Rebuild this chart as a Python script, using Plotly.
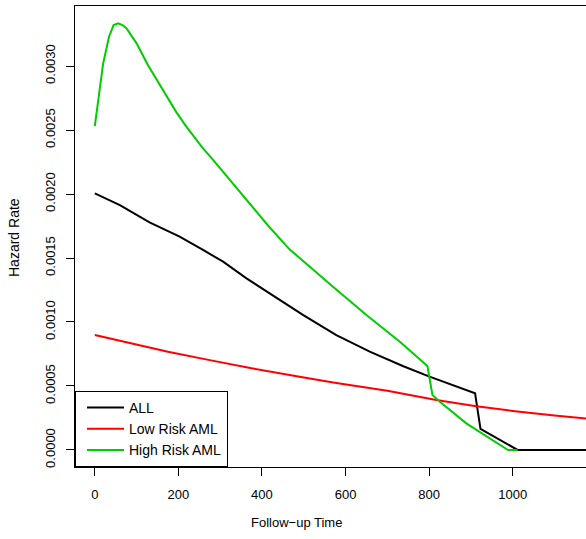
import plotly.graph_objects as go

# ---- data ----
all_x = [0, 60, 131, 203, 259, 307, 363, 419, 442, 498, 578, 658, 737, 801, 910, 923, 1012, 1250]
all_y = [0.002005, 0.001914, 0.001779, 0.001667, 0.001563, 0.001471, 0.001341, 0.001224,
         0.001172, 0.001055, 0.000898, 0.000768, 0.000656, 0.000573, 0.000443, 0.000164,
         0.0, 0.0]

low_x = [0, 100, 175, 275, 375, 490, 574, 700, 817, 913, 1000, 1100, 1175, 1250]
low_y = [0.000898, 0.000822, 0.000768, 0.000702, 0.000638, 0.000573, 0.000526, 0.000462,
         0.000391, 0.000341, 0.000305, 0.000270, 0.000245, 0.000222]

high_x = [0, 10, 20, 34, 45, 56, 66, 76, 100, 127, 155, 175, 195, 219, 257, 283, 363,
          415, 466, 520, 570, 650, 730, 796, 808, 825, 889, 989, 1012]
high_y = [0.002531, 0.002775, 0.003020, 0.003229, 0.003320, 0.003334, 0.003320, 0.003294,
          0.003177, 0.003008, 0.002858, 0.002745, 0.002640, 0.002526, 0.002365, 0.002266,
          0.001953, 0.001752, 0.001568, 0.001414, 0.001276, 0.001055, 0.000846, 0.000656,
          0.000430, 0.000378, 0.000208, 0.0, 0.0]

x_ticks = [0, 200, 400, 600, 800, 1000]
y_ticks = [0.0, 0.0005, 0.0010, 0.0015, 0.0020, 0.0025, 0.0030]
y_tick_labels = ["0.0000", "0.0005", "0.0010", "0.0015", "0.0020", "0.0025", "0.0030"]

FONT = "Liberation Sans, Arial, Helvetica, sans-serif"

fig = go.Figure()
fig.add_trace(go.Scatter(x=all_x, y=all_y, mode="lines", name="ALL",
                         line=dict(color="black", width=2)))
fig.add_trace(go.Scatter(x=low_x, y=low_y, mode="lines", name="Low Risk AML",
                         line=dict(color="#FF0000", width=2)))
fig.add_trace(go.Scatter(x=high_x, y=high_y, mode="lines", name="High Risk AML",
                         line=dict(color="#00CD00", width=2)))

fig.update_layout(
    width=586, height=539,
    margin=dict(l=75, r=0, t=6, b=72),
    paper_bgcolor="white", plot_bgcolor="white",
    font=dict(family=FONT, size=13, color="black"),
    showlegend=True,
    legend=dict(x=0, y=0, xanchor="left", yanchor="bottom",
                bordercolor="black", borderwidth=1, bgcolor="white",
                font=dict(size=14), itemwidth=37, indentation=6, tracegroupgap=0),
    xaxis=dict(range=[-47.4, 1175.5], tickvals=x_ticks, ticks="outside", ticklen=8,
               tickcolor="black", showline=True, linecolor="black", linewidth=1,
               mirror=True, showgrid=False, zeroline=False, ticklabelstandoff=7,
               tickfont=dict(size=13)),
    yaxis=dict(range=[-0.000133, 0.003469], tickvals=y_ticks, ticktext=y_tick_labels,
               ticks="outside", ticklen=8, tickcolor="black", showline=True,
               linecolor="black", linewidth=1, mirror=False, showgrid=False,
               zeroline=False, tickangle=-90, ticklabelstandoff=6,
               tickfont=dict(size=13)),
    annotations=[
        dict(text="Follow\u2212up Time", xref="paper", yref="paper", x=(296.5 - 75) / 511,
             y=-(522.7 - 467) / 461, xanchor="center", yanchor="middle",
             showarrow=False, font=dict(size=13)),
        dict(text="Hazard Rate", xref="paper", yref="paper", x=-(75 - 14) / 511,
             y=(467 - 238) / 461, xanchor="center", yanchor="middle", textangle=-90,
             showarrow=False, font=dict(size=14)),
    ],
)

fig.write_html("out.html")
